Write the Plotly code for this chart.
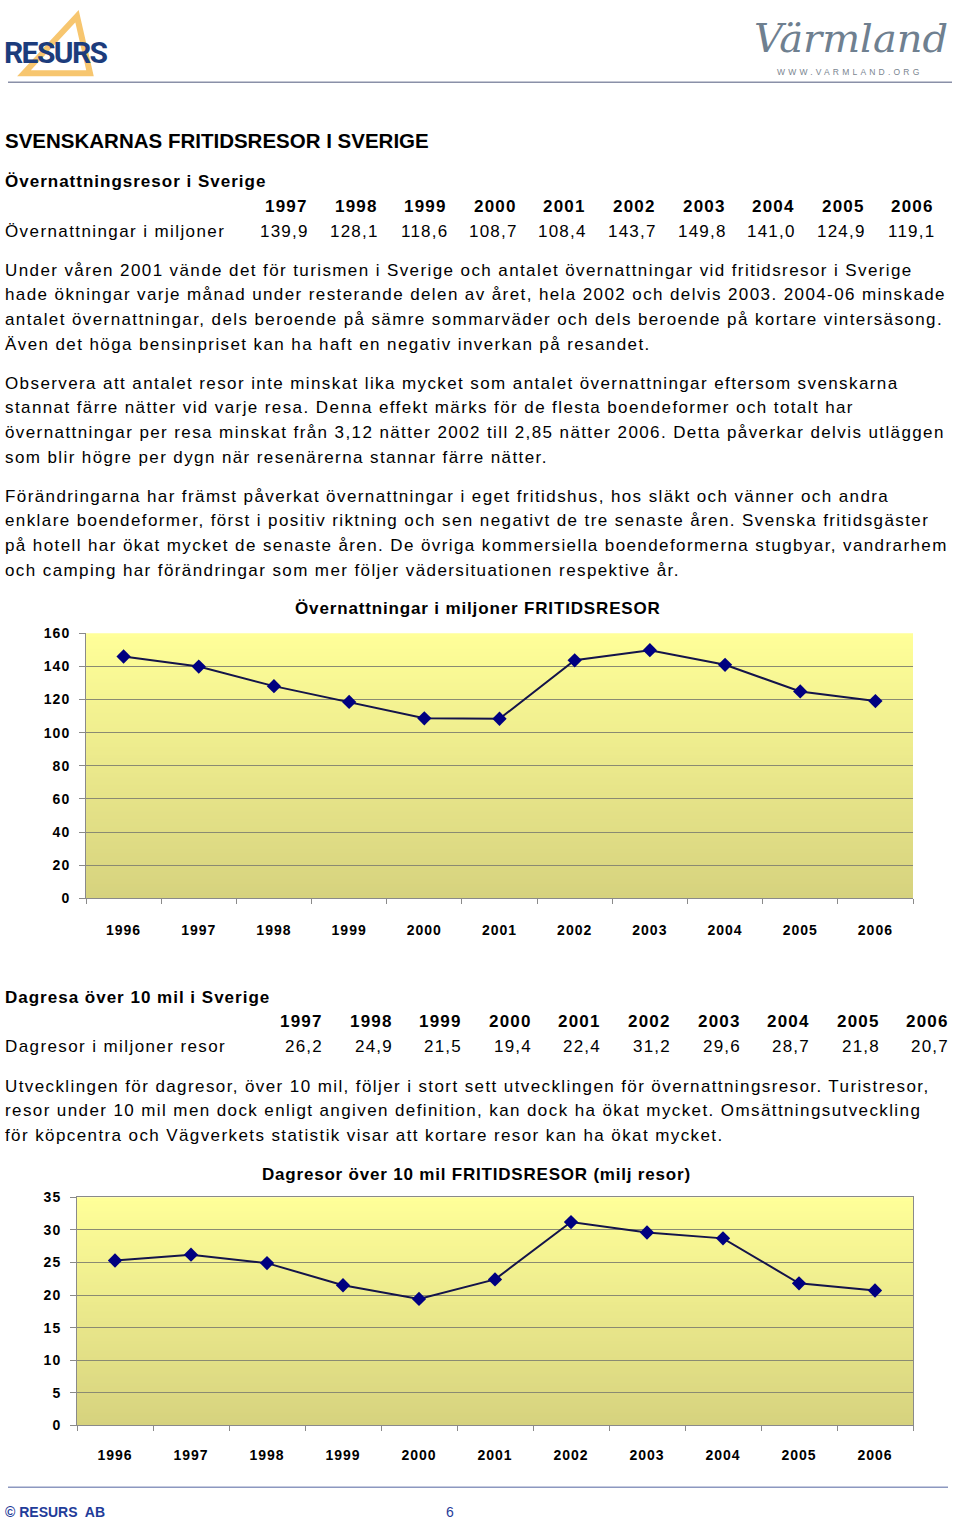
import plotly.graph_objects as go

W, H = 960, 1526

# ---------------- data ----------------
table_years = ['1997', '1998', '1999', '2000', '2001', '2002', '2003', '2004', '2005', '2006']
overnight_table = [139.9, 128.1, 118.6, 108.7, 108.4, 143.7, 149.8, 141.0, 124.9, 119.1]
daytrips_table = [26.2, 24.9, 21.5, 19.4, 22.4, 31.2, 29.6, 28.7, 21.8, 20.7]

chart_years = ['1996', '1997', '1998', '1999', '2000', '2001', '2002', '2003', '2004', '2005', '2006']
overnight_chart = [146.0, 139.9, 128.1, 118.6, 108.7, 108.4, 143.7, 149.8, 141.0, 124.9, 119.1]
daytrips_chart = [25.3, 26.2, 24.9, 21.5, 19.4, 22.4, 31.2, 29.6, 28.7, 21.8, 20.7]

overnight_yticks = [0, 20, 40, 60, 80, 100, 120, 140, 160]
daytrips_yticks = [0, 5, 10, 15, 20, 25, 30, 35]

page_title = 'SVENSKARNAS FRITIDSRESOR I SVERIGE'
sec1_title = 'Övernattningsresor i Sverige'
sec1_row = 'Övernattningar i miljoner'
para1 = [
    'Under våren 2001 vände det för turismen i Sverige och antalet övernattningar vid fritidsresor i Sverige',
    'hade ökningar varje månad under resterande delen av året, hela 2002 och delvis 2003. 2004-06 minskade',
    'antalet övernattningar, dels beroende på sämre sommarväder och dels beroende på kortare vintersäsong.',
    'Även det höga bensinpriset kan ha haft en negativ inverkan på resandet.',
]
para2 = [
    'Observera att antalet resor inte minskat lika mycket som antalet övernattningar eftersom svenskarna',
    'stannat färre nätter vid varje resa. Denna effekt märks för de flesta boendeformer och totalt har',
    'övernattningar per resa minskat från 3,12 nätter 2002 till 2,85 nätter 2006. Detta påverkar delvis utläggen',
    'som blir högre per dygn när resenärerna stannar färre nätter.',
]
para3 = [
    'Förändringarna har främst påverkat övernattningar i eget fritidshus, hos släkt och vänner och andra',
    'enklare boendeformer, först i positiv riktning och sen negativt de tre senaste åren. Svenska fritidsgäster',
    'på hotell har ökat mycket de senaste åren. De övriga kommersiella boendeformerna stugbyar, vandrarhem',
    'och camping har förändringar som mer följer vädersituationen respektive år.',
]
chart1_title = 'Övernattningar i miljoner FRITIDSRESOR'
sec2_title = 'Dagresa över 10 mil i Sverige'
sec2_row = 'Dagresor i miljoner resor'
para4 = [
    'Utvecklingen för dagresor, över 10 mil, följer i stort sett utvecklingen för övernattningsresor. Turistresor,',
    'resor under 10 mil men dock enligt angiven definition, kan dock ha ökat mycket. Omsättningsutveckling',
    'för köpcentra och Vägverkets statistik visar att kortare resor kan ha ökat mycket.',
]
chart2_title = 'Dagresor över 10 mil FRITIDSRESOR (milj resor)'

# ---------------- styles ----------------
FONT = 'Liberation Sans, Arial, Helvetica, sans-serif'
BODY = 17
BODY_LS = 1.4
LINE_C = '#14144a'
MARK_C = '#000080'
GRID_C = '#8a8a72'
AX_C = '#8a8a8a'
GRAD_TOP = (255, 255, 153)
GRAD_BOT = (214, 210, 126)

# the photographed page places the figure slightly inset vertically; map page pixels to figure pixels
V_OFF = 7.7
V_SCALE = 0.9895

annotations = []
shapes = []


def px(x):
    return x / W


def py(y):
    yf = (y - V_OFF) / V_SCALE
    return 1 - yf / H


def sp(s, ls):
    if ls == 0:
        return s
    return f'<span style="letter-spacing:{ls}px">{s}</span>'


def txt(x, y, s, size=BODY, bold=False, anchor='left', color='black', family=FONT, italic=False, ls=0.0):
    annotations.append(dict(
        x=px(x), y=py(y), xref='paper', yref='paper', text=sp(s, ls), showarrow=False,
        xanchor=anchor, yanchor='middle', borderpad=0, align=anchor if anchor != 'center' else 'center',
        font=dict(size=size, color=color, family=family,
                  weight='bold' if bold else 'normal',
                  style='italic' if italic else 'normal')))


# ---------------- header ----------------
shapes.append(dict(type='path', xref='paper', yref='paper',
                   path=f'M {px(77)},{py(16)} L {px(24)},{py(73)} L {px(90)},{py(73)} Z',
                   line=dict(color='#f7c66f', width=6), fillcolor='rgba(0,0,0,0)', layer='above'))
txt(3, 52, 'RESURS', size=30, bold=True, color='#1c3c7c', ls=-1.6,
    family='Roboto, Liberation Sans, Arial, sans-serif')
txt(851, 38, 'Värmland', size=40, color='#6f8090', anchor='center',
    family='DejaVu Serif, Liberation Serif, serif', italic=True)
txt(849, 72, 'WWW.VARMLAND.ORG', size=8.5, color='#7a8590', anchor='center', ls=3.2)
shapes.append(dict(type='line', xref='paper', yref='paper', x0=px(8), x1=px(952), y0=py(82), y1=py(82),
                   line=dict(color='#8a90a8', width=1.5)))

# ---------------- texts ----------------
txt(4, 140, page_title, size=20.5, bold=True)
txt(4, 181, sec1_title, size=17, bold=True, ls=1.0)
right1 = [309 + 69.6 * i for i in range(len(table_years))]
for r, yr, v in zip(right1, table_years, overnight_table):
    txt(r, 206, yr, size=17, bold=True, anchor='right', ls=1.2)
    txt(r + 1, 231, f'{v:.1f}'.replace('.', ','), size=BODY, anchor='right', ls=1.2)
txt(4, 231, sec1_row, ls=BODY_LS)

for i, line in enumerate(para1):
    txt(4, 270 + 24.6 * i, line, ls=BODY_LS)
for i, line in enumerate(para2):
    txt(4, 383 + 24.6 * i, line, ls=BODY_LS)
for i, line in enumerate(para3):
    txt(4, 496 + 24.6 * i, line, ls=BODY_LS)

txt(478, 608, chart1_title, size=17, bold=True, anchor='center', ls=0.85)

txt(4, 997, sec2_title, size=17, bold=True, ls=1.0)
right2 = [324 + 69.6 * i for i in range(len(table_years))]
for r, yr, v in zip(right2, table_years, daytrips_table):
    txt(r, 1021, yr, size=17, bold=True, anchor='right', ls=1.2)
    txt(r, 1046, f'{v:.1f}'.replace('.', ','), size=BODY, anchor='right', ls=1.2)
txt(4, 1046, sec2_row, ls=BODY_LS)
for i, line in enumerate(para4):
    txt(4, 1086 + 24.6 * i, line, ls=BODY_LS)

txt(476, 1174, chart2_title, size=17, bold=True, anchor='center', ls=0.8)

# footer
shapes.append(dict(type='line', xref='paper', yref='paper', x0=px(8), x1=px(948), y0=py(1487), y1=py(1487),
                   line=dict(color='#8c98c0', width=1.5)))
txt(4, 1511.5, '© RESURS  AB', size=14, bold=True, color='#1f3c99')
txt(450, 1511.5, '6', size=14, color='#1f3c99', anchor='center')


# ---------------- gradient backgrounds ----------------
def gradient(xref, yref, n=70):
    for i in range(n):
        t = (i + 0.5) / n
        c = tuple(round(GRAD_BOT[k] + (GRAD_TOP[k] - GRAD_BOT[k]) * t) for k in range(3))
        shapes.append(dict(type='rect', xref=xref, yref=yref, x0=0, x1=1,
                           y0=i / n, y1=min(1, (i + 1) / n + 0.004),
                           fillcolor=f'rgb{c}', line=dict(width=0), layer='below'))


gradient('x domain', 'y domain')
gradient('x2 domain', 'y2 domain')

# ---------------- charts ----------------
fig = go.Figure()
fig.add_trace(go.Scatter(x=chart_years, y=overnight_chart, mode='lines+markers', xaxis='x', yaxis='y',
                         line=dict(color=LINE_C, width=2),
                         marker=dict(symbol='diamond', size=11, color=MARK_C),
                         showlegend=False, name=chart1_title))
fig.add_trace(go.Scatter(x=chart_years, y=daytrips_chart, mode='lines+markers', xaxis='x2', yaxis='y2',
                         line=dict(color=LINE_C, width=2),
                         marker=dict(symbol='diamond', size=11, color=MARK_C),
                         showlegend=False, name=chart2_title))

TF = dict(family=FONT, size=14, color='black', weight='bold')
xticktext = [sp(y, 1.0) for y in chart_years]

xcommon = dict(type='category', tickson='boundaries', ticks='outside', ticklen=5, tickcolor=AX_C,
               showline=True, linecolor=AX_C, linewidth=1, showgrid=False, tickfont=TF,
               range=[-0.5, 10.5], zeroline=False, tickvals=chart_years, ticktext=xticktext)
ycommon = dict(ticks='outside', ticklen=6, tickcolor=AX_C, showline=True, linecolor=AX_C, linewidth=1,
               gridcolor=GRID_C, gridwidth=1, zeroline=False, tickfont=TF, ticklabelstandoff=6)

fig.update_layout(
    width=W, height=H, margin=dict(l=0, r=0, t=0, b=0),
    paper_bgcolor='white', plot_bgcolor='white',
    xaxis=dict(domain=[px(86), px(913)], anchor='y', ticklabelstandoff=19, **xcommon),
    yaxis=dict(domain=[py(898), py(633)], anchor='x', range=[0, 160], tickvals=overnight_yticks,
               ticktext=[sp(str(v), 1.0) for v in overnight_yticks], **ycommon),
    xaxis2=dict(domain=[px(77), px(913)], anchor='y2', ticklabelstandoff=17, mirror=True, **xcommon),
    yaxis2=dict(domain=[py(1425), py(1197)], anchor='x2', range=[0, 35], tickvals=daytrips_yticks,
                ticktext=[sp(str(v), 1.0) for v in daytrips_yticks], mirror=True, **ycommon),
    annotations=annotations, shapes=shapes,
)

fig.write_html('out.html', config={'displayModeBar': False},
               post_script="document.documentElement.style.margin='0';document.body.style.margin='0';"
                           "document.body.style.padding='0';")
